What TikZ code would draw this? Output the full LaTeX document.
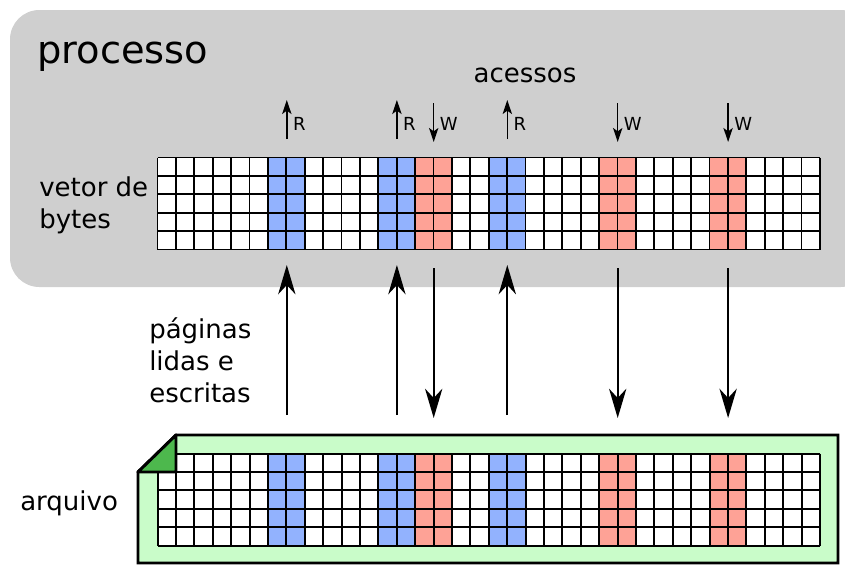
\documentclass[tikz,border=0pt]{standalone}
\usepackage{fontspec}
\setmainfont{DejaVu Sans}
\usetikzlibrary{arrows.meta}
\definecolor{procbg}{HTML}{CFCFCF}
\definecolor{bluecell}{HTML}{92B2FE}
\definecolor{redcell}{HTML}{FEA296}
\definecolor{filebg}{HTML}{C9FCC9}
\definecolor{foldgreen}{HTML}{4DB84D}
\tikzset{
  gridline/.style={line width=1.4pt},
  bigarrow/.style={line width=1.5pt,-{Stealth[length=22pt,width=13pt,inset=7pt]}},
  smallarrow/.style={line width=1.1pt,-{Stealth[length=10.5pt,width=7pt,inset=2.5pt]}},
  acclabel/.style={font=\fontsize{13.5pt}{16pt}\selectfont,inner sep=0pt,anchor=base west},
  biglabel/.style={font=\fontsize{19.5pt}{24pt}\selectfont,inner sep=0pt,align=left},
}
\newcommand\bytegrid[2]{%
  \fill[white] (#1,#2) rectangle ++(662.4,92);
  \foreach \c/\col in {6/bluecell,12/bluecell,14/redcell,18/bluecell,24/redcell,30/redcell}
    \fill[\col] ({#1+\c*18.4},#2) rectangle ++(36.8,92);
  \foreach \i in {0,...,36}
    \draw[gridline] ({#1+\i*18.4},#2) -- ++(0,92);
  \foreach \j in {0,...,5}
    \draw[gridline] (#1,{#2+\j*18.4}) -- ++(662.4,0);
}
\begin{document}
\begin{tikzpicture}[x=0.75pt,y=-0.75pt]
\useasboundingbox (0,0) rectangle (845,565);
% process box
\fill[procbg,rounded corners=22pt] (10,10) rectangle (870,287);
\node[font=\fontsize{28.8pt}{34pt}\selectfont,inner sep=0pt,anchor=base west] (proc) at (37,63) {processo};
\node[font=\fontsize{19.5pt}{24pt}\selectfont,inner sep=0pt,anchor=base] (acc) at (525,82) {acessos};
\node[biglabel,anchor=west] (vetor) at (39,205) {vetor de\\bytes};
% memory grid
\bytegrid{157.5}{157.5}
% file
\draw[line width=2.2pt,fill=filebg,line join=miter] (138,472) -- (176,435) -- (838,435) -- (838,563) -- (138,563) -- cycle;
\bytegrid{157.6}{453.6}
\draw[line width=2.2pt,fill=foldgreen,line join=round] (138,472) -- (176,435) -- (176,472) -- cycle;
\node[biglabel,anchor=base west] (arq) at (20,510) {arquivo};
\node[biglabel,anchor=west] (pag) at (149,360) {páginas\\lidas e\\escritas};
% coordinates
\foreach \n/\x in {a/286.8,b/396.9,c/507.3}{
  \coordinate (\n top) at (\x,265);
  \coordinate (\n bot) at (\x,415);
  \coordinate (\n s1) at (\x,139);
  \coordinate (\n s2) at (\x,100);
}
\foreach \n/\x in {d/433.7,e/617.7,f/728.1}{
  \coordinate (\n top) at (\x,268);
  \coordinate (\n bot) at (\x,418);
  \coordinate (\n s1) at (\x,103);
  \coordinate (\n s2) at (\x,142);
}
% big arrows
\foreach \n in {a,b,c}
  \draw[bigarrow] (\n bot) -- (\n top);
\foreach \n in {d,e,f}
  \draw[bigarrow] (\n top) -- (\n bot);
% small access arrows
\foreach \n in {a,b,c}{
  \draw[smallarrow] (\n s1) -- (\n s2);
  \node[acclabel] (\n lab) at ([xshift=4.5pt]\n s1 |- 0,130) {R};
}
\foreach \n in {d,e,f}{
  \draw[smallarrow] (\n s1) -- (\n s2);
  \node[acclabel] (\n lab) at ([xshift=4.5pt]\n s1 |- 0,130) {W};
}
\end{tikzpicture}
\end{document}
